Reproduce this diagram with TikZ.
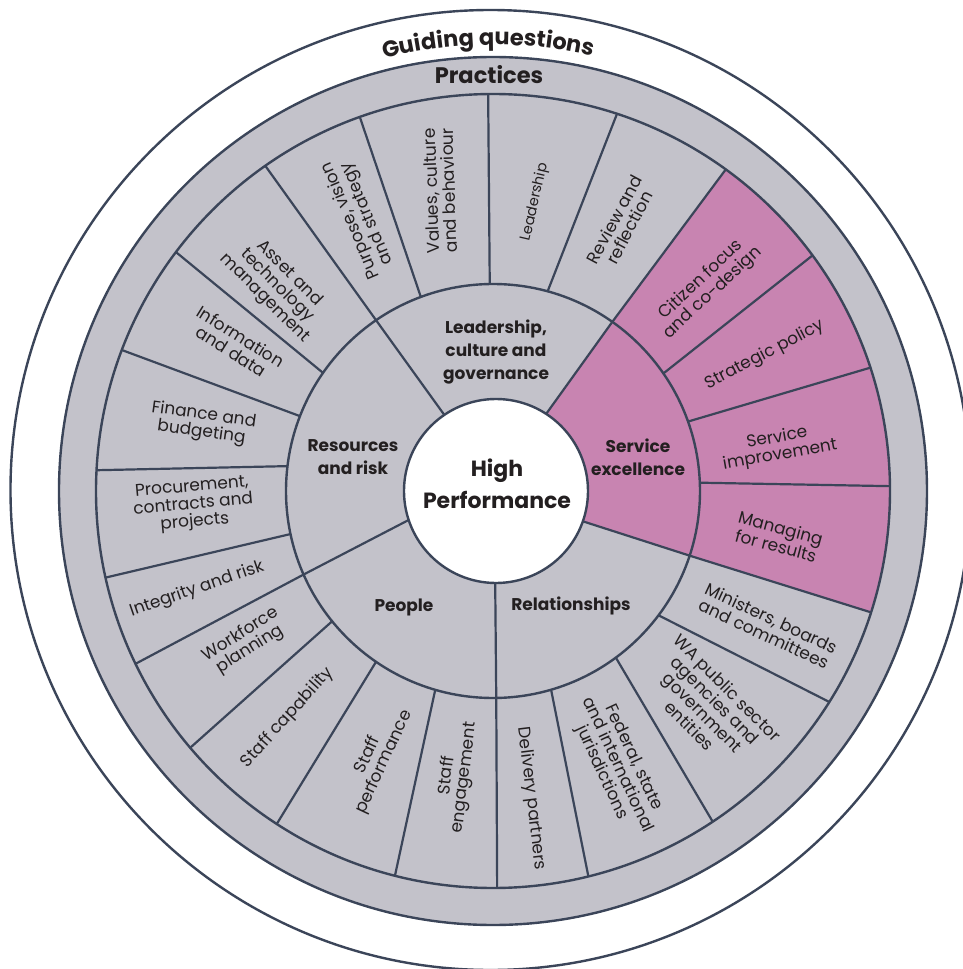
\documentclass[tikz,border=0pt]{standalone}
\usepackage{fontspec}
\setmainfont{Poppins}
\usetikzlibrary{decorations.text}
\definecolor{wheelgray}{HTML}{C3C2CA}
\definecolor{wheelpink}{HTML}{C884B1}
\definecolor{wheelline}{HTML}{3B4559}
\definecolor{wheeltext}{HTML}{231F20}

\begin{document}
\begin{tikzpicture}[x=1pt, y=1pt,
rim/.style={draw=wheelline, line width=2.4pt},
spoke/.style={wheelline, line width=2.2pt},
practice/.style={align=center, text=wheeltext, inner sep=0pt, font=\fontsize{17}{17.5}\selectfont},
area/.style={align=center, text=wheeltext, inner sep=0pt, font=\bfseries\fontsize{17}{23}\selectfont}]

%%%%%%%% SETTINGS %%%%%%%%%%%%%
\pgfmathsetmacro{\Rcore}{92}
\pgfmathsetmacro{\Rarea}{207}
\pgfmathsetmacro{\Rring}{397}
\pgfmathsetmacro{\Rband}{434}
\pgfmathsetmacro{\Rguide}{480}
%%%%%%%%%%%%%%%%%%%%%%%%%%%

\useasboundingbox (-493,-478) rectangle (470,491);

\draw[rim, fill=white] (-2.5,1) circle[radius=\Rguide];
\draw[rim, fill=wheelgray] (0,0) circle[radius=\Rband];

% service excellence sector
\fill[wheelpink] (55.6:80) -- (54.8:\Rarea) -- (54.1:\Rring) arc[start angle=54.1, end angle=-17.8, radius=\Rring] -- (-18.2:\Rarea) -- (-18.8:80) -- cycle;

\draw[rim] (0,0) circle[radius=\Rring];
\draw[rim] (0,0) circle[radius=\Rarea];

% practice spokes
\foreach \a/\b in {90.9/90.7, 74.7/71.8, 34.6/36.4, 19.6/18.1, 2.3/0.7,
  -36.9/-32.1, -53.6/-56.4, -73.7/-76.1, -106.2/-104.3, -124.4/-123.0,
  -141.0/-139.7, -168.0/-167.4, 173.1/177.0, 158.8/159.2, 145.2/143.0, 110.4/109.6}{
  \draw[spoke] (\a:\Rarea) -- (\b:\Rring);
}
% area spokes
\foreach \a/\b/\c in {55.6/54.8/54.1, -18.8/-18.2/-17.8, -88.5/-89.1/-89.4,
  -162/-156.2/-154.2, 122.2/124.4/125.0}{
  \draw[spoke] (\a:80) -- (\b:\Rarea) -- (\c:\Rring);
}

\draw[rim, fill=white] (3,0) circle[radius=\Rcore];

% titles
\path[decorate, decoration={text along path, text align=center, text color=wheeltext,
  text={|\bfseries\fontsize{22.5}{22.5}\selectfont|Guiding questions}}]
  (160.6:446) arc[start angle=160.6, end angle=20.6, radius=446];
\node[area, font=\bfseries\fontsize{22.5}{22.5}\selectfont] (practices) at (-4,416) {Practices};

\node[area, font=\bfseries\fontsize{22}{32}\selectfont] (core) at (4,7) {High\\Performance};
\node[area] (leadarea) at (3,139) {Leadership,\\culture and\\governance};
\node[area] (servarea) at (145,34) {Service\\excellence};
\node[area] (resarea) at (-140,34) {Resources\\and risk};
\node[area] (peoplearea) at (-89,-116) {People};
\node[area] (relarea) at (78,-115) {Relationships};

% practices
\foreach \n/\a/\r/\t/\txt in {
  purpose/116/305/113/{Purpose, vision\\and strategy},
  values/100/305/92/{Values, culture\\and behaviour},
  review/64.3/297/62/{Review and\\reflection},
  citizen/43.7/296/43/{Citizen focus\\and co-design},
  strategic/26.6/304/27.5/{Strategic policy},
  improvement/8.8/289/10/{Service\\improvement},
  managing/-9.1/289/-15/{Managing\\for results},
  ministers/-26.2/306/-25/{Ministers, boards\\and committees},
  agencies/-45/305/-45/{WA public sector\\agencies and\\government\\entities},
  federal/-65.6/301/-65/{Federal, state\\and international\\jurisdictions},
  delivery/-82.9/310/-83/{Delivery partners},
  engagement/-97.4/288/83/{Staff\\engagement},
  performance/-113.6/292/65/{Staff\\performance},
  capability/-132.2/306/48/{Staff capability},
  workforce/-148.6/290/32/{Workforce\\planning},
  integrity/-161.6/312/19/{Integrity and risk},
  procurement/-177.3/300/5/{Procurement,\\contracts and\\projects},
  finance/167/298/-8/{Finance and\\budgeting},
  information/150.2/296/-32/{Information\\and data},
  asset/136.5/298/-45/{Asset and\\technology\\management}}{
  \node[practice, rotate=\t] (\n) at (\a:\r) {\txt};
}
\node[practice, font=\fontsize{14.5}{15}\selectfont, rotate=77] (leadership) at (81.7:292) {Leadership};
\end{tikzpicture}
\end{document}
